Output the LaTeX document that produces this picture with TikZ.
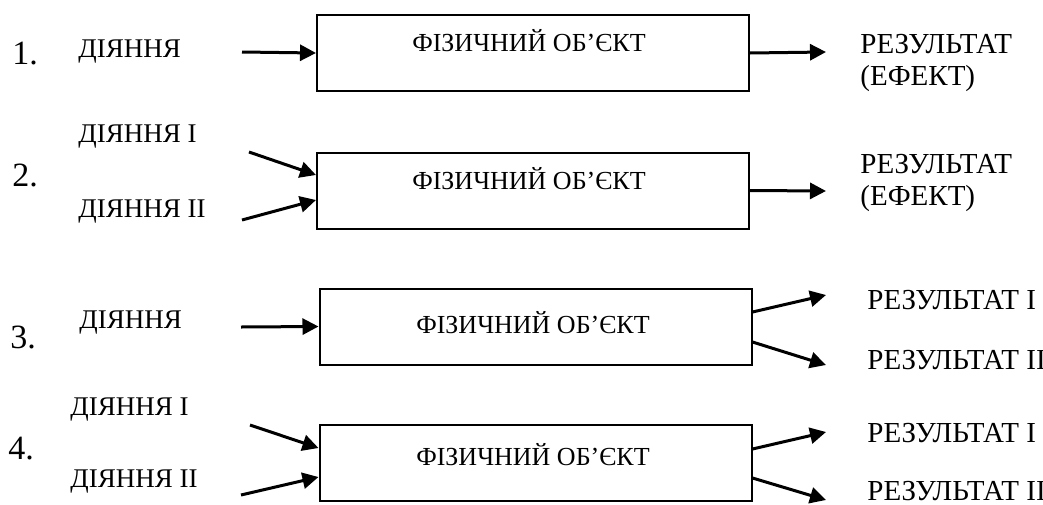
\documentclass[tikz,border=0pt]{standalone}
\usepackage{fontspec}
\setmainfont{Liberation Serif}
\usetikzlibrary{arrows.meta,calc}
\begin{document}
\begin{tikzpicture}[x=0.5pt,y=-0.5pt,
  obj/.style={draw,line width=1pt,minimum width=216pt,minimum height=38pt,inner sep=0pt},
  lbl/.style={font=\fontsize{13.5}{16}\selectfont,inner sep=0pt,anchor=west,align=left},
  res/.style={font=\fontsize{14.5}{16}\selectfont,inner sep=0pt,anchor=west,align=left},
  num/.style={font=\fontsize{17}{20}\selectfont,inner sep=0pt,anchor=west},
  ttl/.style={font=\fontsize{13}{16}\selectfont,inner sep=0pt},
  arr/.style={line width=1.5pt,-{Triangle[length=8pt,width=8pt]}}]
\useasboundingbox (0,0) rectangle (1043,504);
% boxes
\node[obj] (b1) at (533,53) {};
\node[obj] (b2) at (533,190.5) {};
\node[obj] (b3) at (535.5,326.5) {};
\node[obj] (b4) at (535.5,463) {};
\node[ttl] (t1) at (529,41) {ФІЗИЧНИЙ ОБ’ЄКТ};
\node[ttl] (t2) at (529,179) {ФІЗИЧНИЙ ОБ’ЄКТ};
\node[ttl] (t3) at (533,323) {ФІЗИЧНИЙ ОБ’ЄКТ};
\node[ttl] (t4) at (533,455) {ФІЗИЧНИЙ ОБ’ЄКТ};
% numbers
\node[num] (n1) at (12,54) {1.};
\node[num] (n2) at (12,175) {2.};
\node[num] (n3) at (10,337) {3.};
\node[num] (n4) at (8,449) {4.};
% inputs
\node[lbl] (d1) at (78,52) {ДІЯННЯ};
\node[lbl] (d2a) at (78,137) {ДІЯННЯ І};
\node[lbl] (d2b) at (78,212) {ДІЯННЯ ІІ};
\node[lbl] (d3) at (79,323) {ДІЯННЯ};
\node[lbl] (d4a) at (70,410) {ДІЯННЯ І};
\node[lbl] (d4b) at (70,482) {ДІЯННЯ ІІ};
% results
\node[res] (r1) at (860,63) {РЕЗУЛЬТАТ\\(ЕФЕКТ)};
\node[res] (r2) at (860,183) {РЕЗУЛЬТАТ\\(ЕФЕКТ)};
\node[res] (r3a) at (867,300) {РЕЗУЛЬТАТ І};
\node[res] (r3b) at (867,360) {РЕЗУЛЬТАТ ІІ};
\node[res] (r4a) at (867,433) {РЕЗУЛЬТАТ І};
\node[res] (r4b) at (867,491) {РЕЗУЛЬТАТ ІІ};
% free ends
\coordinate (s1) at (242,52);
\coordinate (s2a) at (249,152);
\coordinate (s2b) at (242,220);
\coordinate (s3) at (241,327);
\coordinate (s4a) at (250,425);
\coordinate (s4b) at (241,495);
\coordinate (e1) at (826,52);
\coordinate (e2) at (826,191);
\coordinate (e3a) at (826,295);
\coordinate (e3b) at (826,365);
\coordinate (e4a) at (826,432);
\coordinate (e4b) at (826,500);
% arrows
\draw[arr] (s1) -- (b1.west);
\draw[arr] (s2a) -- ($(b2.west)+(0,-15.5)$);
\draw[arr] (s2b) -- ($(b2.west)+(0,9.5)$);
\draw[arr] (b1.east) -- (e1);
\draw[arr] (b2.east) -- (e2);
\draw[arr] (s3) -- (b3.west);
\draw[arr] ($(b3.east)+(0,-14.5)$) -- (e3a);
\draw[arr] ($(b3.east)+(0,15.5)$) -- (e3b);
\draw[arr] (s4a) -- ($(b4.west)+(0,-15)$);
\draw[arr] (s4b) -- ($(b4.west)+(0,14)$);
\draw[arr] ($(b4.east)+(0,-14)$) -- (e4a);
\draw[arr] ($(b4.east)+(0,15)$) -- (e4b);
\end{tikzpicture}
\end{document}
